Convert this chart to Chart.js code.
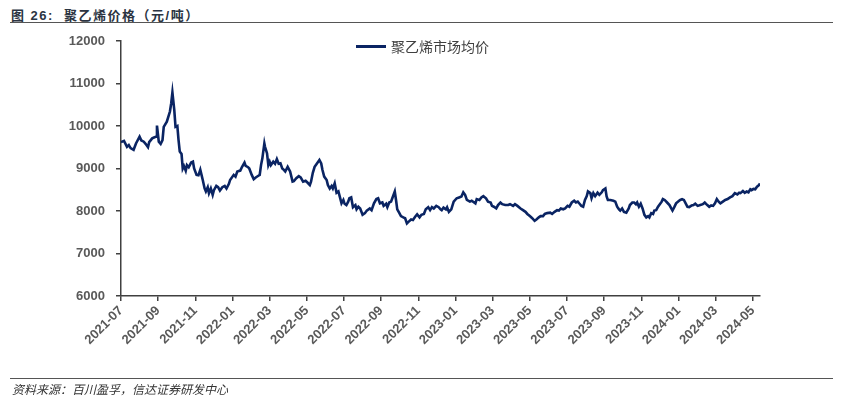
<!DOCTYPE html>
<html>
<head>
<meta charset="utf-8">
<script src="https://cdn.jsdelivr.net/npm/chart.js@4.4.0/dist/chart.umd.min.js"></script>
<style>
  html, body { margin: 0; padding: 0; background: #fff; }
  body { width: 849px; height: 397px; position: relative; overflow: hidden; font-family: "Liberation Sans", Arial, "Noto Sans CJK SC", sans-serif; }
  #title { position: absolute; left: 11px; top: 5px; font-size: 13px; font-weight: bold; color: #2b3442; letter-spacing: 1.5px; white-space: pre; font-family: "Liberation Sans", "Noto Sans CJK SC", sans-serif; }
  #topLine { position: absolute; left: 10px; width: 823px; top: 22px; height: 0; border-top: 1.5px solid #555; }
  #bottomLine { position: absolute; left: 10px; width: 823px; top: 378px; height: 0; border-top: 1.5px solid #555; }
  #source { position: absolute; left: 12px; top: 380px; font-size: 12px; font-style: italic; color: #333; font-family: "Noto Sans CJK SC", sans-serif; }
  #legend { position: absolute; left: 356px; top: 36px; display: flex; align-items: center; font-size: 14px; color: #404040; font-family: "Noto Sans CJK SC", sans-serif; }
  #legend .swatch { width: 30px; height: 0; border-top: 3px solid #0a2463; margin-right: 5px; }
  #chartWrap { position: absolute; left: 0; top: 0; width: 849px; height: 397px; }
</style>
</head>
<body>
<div id="title">图 26:  聚乙烯价格（元/吨）</div>
<div id="topLine"></div>
<div id="chartWrap"><canvas id="priceChart" width="849" height="397"></canvas></div>
<div id="legend"><span class="swatch"></span><span>聚乙烯市场均价</span></div>
<div id="bottomLine"></div>
<div id="source">资料来源：百川盈孚，信达证券研发中心</div>
<script>
/* --------------- Data --------------- */
const seriesName = "聚乙烯市场均价";

const dates = [
  "2021-07-01","2021-07-06","2021-07-11","2021-07-14","2021-07-17","2021-07-22","2021-07-26",
  "2021-08-01","2021-08-04","2021-08-08","2021-08-11","2021-08-15","2021-08-17","2021-08-22","2021-08-25","2021-08-29","2021-08-30",
  "2021-09-02","2021-09-05","2021-09-08","2021-09-10","2021-09-15","2021-09-20","2021-09-22","2021-09-24","2021-09-27","2021-09-29",
  "2021-10-02","2021-10-04","2021-10-06","2021-10-09","2021-10-11","2021-10-13","2021-10-16","2021-10-18","2021-10-21","2021-10-25","2021-10-28","2021-10-30",
  "2021-11-03","2021-11-06","2021-11-09","2021-11-11","2021-11-13","2021-11-16","2021-11-18","2021-11-21","2021-11-23","2021-11-26","2021-11-29",
  "2021-12-01","2021-12-05","2021-12-08","2021-12-11","2021-12-15","2021-12-19","2021-12-22","2021-12-26","2021-12-28",
  "2022-01-03","2022-01-06","2022-01-09","2022-01-14","2022-01-17","2022-01-21","2022-01-23","2022-01-27","2022-01-29",
  "2022-02-02","2022-02-05","2022-02-08","2022-02-12","2022-02-14","2022-02-16","2022-02-18","2022-02-21","2022-02-22","2022-02-25","2022-02-27",
  "2022-03-01","2022-03-03","2022-03-07","2022-03-10","2022-03-13","2022-03-16","2022-03-19","2022-03-22","2022-03-24","2022-03-27","2022-03-31",
  "2022-04-04","2022-04-08","2022-04-10","2022-04-14","2022-04-18","2022-04-21","2022-04-25","2022-04-29",
  "2022-05-02","2022-05-06","2022-05-08","2022-05-11","2022-05-14","2022-05-17","2022-05-22","2022-05-25","2022-05-27","2022-05-30",
  "2022-06-03","2022-06-05","2022-06-08","2022-06-11","2022-06-13","2022-06-16","2022-06-19","2022-06-22","2022-06-24","2022-06-27","2022-06-30",
  "2022-07-02","2022-07-05","2022-07-08","2022-07-10","2022-07-13","2022-07-16","2022-07-20","2022-07-22","2022-07-25","2022-07-28",
  "2022-08-01","2022-08-05","2022-08-08","2022-08-13","2022-08-16","2022-08-20","2022-08-24","2022-08-27","2022-08-30",
  "2022-09-03","2022-09-05","2022-09-09","2022-09-11","2022-09-14","2022-09-17","2022-09-19","2022-09-23","2022-09-25","2022-09-27","2022-09-30",
  "2022-10-03","2022-10-07","2022-10-10","2022-10-13","2022-10-16","2022-10-20","2022-10-23","2022-10-27","2022-10-30",
  "2022-11-03","2022-11-06","2022-11-10","2022-11-13","2022-11-17","2022-11-20","2022-11-23","2022-11-26","2022-11-30",
  "2022-12-04","2022-12-07","2022-12-09","2022-12-12","2022-12-16","2022-12-18","2022-12-21","2022-12-25","2022-12-29",
  "2023-01-03","2023-01-07","2023-01-11","2023-01-14","2023-01-17","2023-01-20","2023-01-25","2023-01-28",
  "2023-02-03","2023-02-05","2023-02-09","2023-02-12","2023-02-15","2023-02-19","2023-02-22","2023-02-26","2023-02-28",
  "2023-03-03","2023-03-07","2023-03-10","2023-03-14","2023-03-17","2023-03-22","2023-03-27","2023-03-30",
  "2023-04-04","2023-04-07","2023-04-11","2023-04-16","2023-04-20","2023-04-24","2023-04-27",
  "2023-05-01","2023-05-05","2023-05-09","2023-05-12","2023-05-16","2023-05-19","2023-05-23","2023-05-26","2023-05-30",
  "2023-06-04","2023-06-07","2023-06-11","2023-06-15","2023-06-18","2023-06-21","2023-06-25","2023-06-28",
  "2023-07-02","2023-07-05","2023-07-09","2023-07-13","2023-07-16","2023-07-19","2023-07-22","2023-07-25","2023-07-28","2023-07-31",
  "2023-08-03","2023-08-05","2023-08-09","2023-08-11","2023-08-14","2023-08-17","2023-08-21","2023-08-24","2023-08-28","2023-08-30",
  "2023-09-03","2023-09-05","2023-09-07","2023-09-11","2023-09-16","2023-09-19","2023-09-22","2023-09-25","2023-09-27","2023-09-30",
  "2023-10-03","2023-10-07","2023-10-11","2023-10-13","2023-10-17","2023-10-20","2023-10-23","2023-10-25","2023-10-28","2023-10-31",
  "2023-11-03","2023-11-06","2023-11-09","2023-11-12","2023-11-14","2023-11-17","2023-11-20","2023-11-22","2023-11-25","2023-11-28","2023-11-30",
  "2023-12-04","2023-12-06","2023-12-09","2023-12-13","2023-12-17","2023-12-20","2023-12-22","2023-12-25","2023-12-28",
  "2024-01-02","2024-01-04","2024-01-07","2024-01-10","2024-01-13","2024-01-16","2024-01-19","2024-01-23","2024-01-26","2024-01-29",
  "2024-02-02","2024-02-06","2024-02-10","2024-02-13","2024-02-17","2024-02-20","2024-02-23","2024-02-26","2024-02-29",
  "2024-03-03","2024-03-06","2024-03-09","2024-03-13","2024-03-17","2024-03-21","2024-03-25","2024-03-29",
  "2024-04-02","2024-04-06","2024-04-09","2024-04-11","2024-04-15","2024-04-18","2024-04-21","2024-04-24","2024-04-27","2024-04-29",
  "2024-05-02","2024-05-05","2024-05-08","2024-05-10","2024-05-13"
];

const prices = [
  9620,9650,9510,9550,9480,9440,9590,
  9750,9660,9630,9580,9500,9620,9710,9730,9750,10010,
  9630,9580,9670,9980,10100,10340,10530,10790,10380,9980,
  10000,9670,9400,9340,9000,9060,8950,9080,9030,9140,9160,9000,
  8850,8840,8970,8850,8730,8530,8460,8560,8420,8530,8380,
  8490,8590,8560,8480,8560,8590,8530,8640,8730,
  8850,8810,8930,8950,9040,9140,9060,9030,9000,
  8850,8750,8790,8830,8850,9080,9240,9590,9510,9360,9080,
  9160,9080,9160,9110,9220,9110,9120,9000,8980,8930,9040,
  8930,8690,8700,8770,8820,8790,8690,8710,
  8670,8610,8690,8900,9040,9100,9200,9120,8970,8810,
  8730,8610,8530,8590,8530,8650,8430,8460,8350,8180,8260,
  8170,8140,8220,8300,8320,8090,8140,8040,8100,8060,
  7910,7950,8010,8060,8020,8180,8280,8300,8180,
  8200,8120,8170,8090,8200,8220,8300,8460,8260,8040,7960,
  7880,7850,7830,7710,7750,7800,7790,7870,7920,
  7850,7910,7930,8040,8090,8020,8090,8060,8120,
  8090,8040,8020,8080,8040,8090,7980,8040,8220,
  8300,8320,8340,8440,8380,8260,8220,8240,
  8180,8280,8260,8320,8350,8300,8220,8200,8120,
  8100,8060,8140,8200,8160,8140,8140,8160,
  8120,8160,8120,8060,8020,7980,7930,
  7880,7830,7770,7800,7850,7880,7880,7930,7950,
  7960,7930,7980,8020,8010,8060,8040,8060,
  8120,8100,8200,8240,8200,8220,8170,8120,8100,8260,
  8350,8460,8420,8300,8420,8350,8430,8380,8440,8490,
  8530,8340,8260,8260,8240,8220,8100,8040,8010,8060,
  7980,7960,8060,8140,8200,8200,8160,8200,8100,8170,
  8060,7910,7850,7880,7850,7950,7930,8010,8020,8100,8140,
  8220,8280,8260,8200,8140,8060,8010,8090,8180,
  8240,8260,8280,8260,8180,8100,8090,8130,8140,8170,
  8120,8140,8160,8200,8140,8100,8130,8120,8180,
  8280,8220,8180,8220,8260,8280,8320,8350,
  8420,8390,8430,8420,8470,8430,8460,8440,8510,8490,
  8520,8510,8570,8590,8650
];

const yTicks = { min: 6000, max: 12000, step: 1000 };
const firstMonth = { year: 2021, month: 7 };   // x tick labels every 2 months from here

/* --------------- Helpers --------------- */
// date string -> months since 2021-07 (fractional)
const toMonthIndex = (d) => {
  const [y, m, dd] = d.split("-").map(Number);
  const daysInMonth = new Date(y, m, 0).getDate();
  return (y - firstMonth.year) * 12 + (m - firstMonth.month) + (dd - 1) / daysInMonth;
};
const monthLabel = (v) => {
  const total = firstMonth.month - 1 + Math.round(v);
  const y = firstMonth.year + Math.floor(total / 12);
  const m = (total % 12) + 1;
  return y + "-" + String(m).padStart(2, "0");
};

const points = dates.map((d, i) => ({ x: toMonthIndex(d), y: prices[i] }));
const lastX = points[points.length - 1].x;

/* --------------- Chart --------------- */
const tickFont = { family: "'Liberation Sans', Arial, sans-serif", size: 13, weight: "bold" };

new Chart(document.getElementById("priceChart"), {
  type: "line",
  data: {
    datasets: [{
      label: seriesName,
      data: points,
      borderColor: "#0a2463",
      borderWidth: 2.6,
      pointRadius: 0,
      tension: 0,
      fill: false,
    }],
  },
  options: {
    responsive: false,
    animation: false,
    layout: { padding: { left: 0, top: 41, right: 89, bottom: 0 } },
    plugins: {
      legend: { display: false },
      tooltip: { enabled: false },
    },
    scales: {
      x: {
        type: "linear",
        min: 0,
        max: lastX,
        afterFit: (scale) => { scale.height = 101; },
        border: { display: true, color: "#404040", width: 1.5 },
        grid: { display: true, drawOnChartArea: false, drawTicks: true, tickLength: 5, color: "#404040", lineWidth: 1.5 },
        ticks: {
          stepSize: 2,
          includeBounds: false,
          autoSkip: false,
          maxRotation: 45,
          minRotation: 45,
          padding: 2,
          color: "#595959",
          font: tickFont,
          callback: (v) => monthLabel(v),
        },
      },
      y: {
        min: yTicks.min,
        max: yTicks.max,
        afterFit: (scale) => { scale.width = 121; },
        border: { display: true, color: "#404040", width: 1.5 },
        grid: { display: true, drawOnChartArea: false, drawTicks: true, tickLength: 5, color: "#404040", lineWidth: 1.5 },
        ticks: {
          stepSize: yTicks.step,
          padding: 11,
          color: "#595959",
          font: tickFont,
          callback: (v) => String(v),
        },
      },
    },
  },
});
</script>
</body>
</html>
